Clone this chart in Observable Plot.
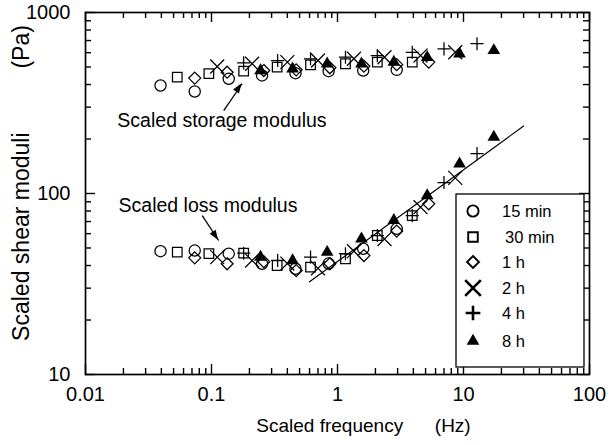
<!DOCTYPE html>
<html><head><meta charset="utf-8">
<script src="https://cdn.jsdelivr.net/npm/d3@7"></script>
<script src="https://cdn.jsdelivr.net/npm/@observablehq/plot@0.6"></script>
<style>
html,body{margin:0;padding:0;background:#fff;}
#chart{width:610px;height:445px;}
</style></head><body><div id="chart"></div>
<script>
// ---- data ----
const seriesNames = ["15 min", "30 min", "1 h", "2 h", "4 h", "8 h"];

const freq15 = [0.0394, 0.0736, 0.137, 0.252, 0.464, 0.85, 1.6, 2.95];
const storage15 = [395, 366, 430, 449, 462, 474, 478, 482];
const loss15 = [48.0, 48.4, 46.5, 40.9, 38.4, 41.0, 49.5, 63.8];

const freq30 = [0.0535, 0.0953, 0.180, 0.332, 0.611, 1.157, 2.07, 3.92];
const storage30 = [439, 459, 474, 499, 514, 521, 532, 532];
const loss30 = [47.4, 46.5, 46.8, 40.0, 39.2, 43.6, 58.6, 75.5];

const freq1h = [0.0736, 0.133, 0.26, 0.47, 0.87, 1.62, 2.95, 5.3];
const storage1h = [434, 468, 478, 482, 495, 505, 515, 532];
const loss1h = [44.1, 40.9, 42.0, 37.5, 40.9, 45.4, 62.0, 87.7];

const freq2h = [0.111, 0.21, 0.40, 0.70, 1.35, 2.36, 4.56, 8.6];
const storage2h = [503, 521, 532, 543, 555, 566, 578, 603];
const loss2h = [44.5, 42.6, 41.0, 38.6, 48.0, 56.0, 84.0, 122];

const freq4h = [0.180, 0.335, 0.611, 1.157, 2.07, 3.92, 7.0, 12.8];
const storage4h = [527, 543, 555, 566, 578, 603, 630, 672];
const loss4h = [46.8, 42.7, 44.5, 46.5, 58.6, 75.5, 115, 166];

const freq8h = [0.245, 0.44, 0.828, 1.55, 2.80, 5.15, 9.3, 17.4];
const storage8h = [478, 489, 521, 521, 532, 566, 591, 617];
const loss8h = [44.5, 42.6, 47.4, 56.2, 71.0, 97.5, 146, 205];

// fitted line (slope ~0.5)
const lineFreq = [0.6, 30];
const lineLoss = [32.5, 236];

// tick labels
const xTickValues = [0.01, 0.1, 1, 10, 100];
const xTickLabels = ["0.01", "0.1", "1", "10", "100"];
const yTickValues = [10, 100, 1000];
const yTickLabels = ["10", "100", "1000"];

const NB = "\u00a0";
const xTitle = "Scaled frequency" + NB.repeat(6) + "(Hz)";
const yTitle = "Scaled shear moduli" + NB.repeat(10) + "(Pa)";

const noteText = ["Scaled storage modulus", "Scaled loss modulus"];
const noteX = [0.0179, 0.0183];
const noteY = [253, 86];
const arrowX1 = [0.125, 0.0844], arrowY1 = [287, 75.5];
const arrowX2 = [0.175, 0.114], arrowY2 = [404, 55];

// ---- styling ----
const symbols = ["circle", "square", "diamond2", "times", "plus", "triangle"];
const d3symbols = [d3.symbolCircle, d3.symbolSquare, d3.symbolDiamond2, d3.symbolTimes, d3.symbolPlus, d3.symbolTriangle];
const radii = [5.6, 5.4, 5.4, 6.4, 4.3, 4.7];
const filled = [false, false, false, false, false, true];

const W = 610, H = 445, mL = 85, mR = 21, mT = 12, mB = 71;
const plotW = W - mL - mR, plotH = H - mT - mB;
const font = "'Liberation Sans', Arial, Helvetica, sans-serif";

const freqs = [freq15, freq30, freq1h, freq2h, freq4h, freq8h];
const stor = [storage15, storage30, storage1h, storage2h, storage4h, storage8h];
const loss = [loss15, loss30, loss1h, loss2h, loss4h, loss8h];

const table = [];
seriesNames.forEach((s, i) => {
  freqs[i].forEach((f, j) => {
    table.push({series: s, idx: i, freq: f, modulus: "storage", value: stor[i][j]});
    table.push({series: s, idx: i, freq: f, modulus: "loss", value: loss[i][j]});
  });
});

const lineData = lineFreq.map((f, i) => ({freq: f, value: lineLoss[i]}));
const notes = noteText.map((t, i) => ({text: t, x: noteX[i], y: noteY[i]}));
const arrows = arrowX1.map((_, i) => ({x1: arrowX1[i], y1: arrowY1[i], x2: arrowX2[i], y2: arrowY2[i]}));

// minor/major tick positions for the log axes
const xMinor = [], yMinor = [];
for (const dec of [0.01, 0.1, 1, 10]) for (let m = 2; m <= 9; m++) xMinor.push(dec * m);
for (const dec of [10, 100]) for (let m = 2; m <= 9; m++) yMinor.push(dec * m);

const tickLenMaj = 10, tickLenMin = 6, tw = 1.4;

const dotMarks = seriesNames.map((s, i) =>
  Plot.dot(table.filter(d => d.idx === i), {
    x: "freq", y: "value",
    symbol: () => symbols[i],
    r: radii[i],
    stroke: filled[i] ? "none" : "black",
    fill: filled[i] ? "black" : "none",
    strokeWidth: 1.25
  })
);

const plot = Plot.plot({
  width: W, height: H,
  marginLeft: mL, marginRight: mR, marginTop: mT, marginBottom: mB,
  style: {fontFamily: font, background: "white", color: "black", overflow: "visible"},
  x: {type: "log", domain: [0.01, 100]},
  y: {type: "log", domain: [10, 1000]},
  symbol: {type: "identity"},
  marks: [
    // inward ticks on all four sides
    Plot.tickX(xMinor, {x: d => d, insetTop: plotH - tickLenMin, strokeWidth: tw}),
    Plot.tickX(xMinor, {x: d => d, insetBottom: plotH - tickLenMin, strokeWidth: tw}),
    Plot.tickX(xTickValues, {x: d => d, insetTop: plotH - tickLenMaj, strokeWidth: tw}),
    Plot.tickX(xTickValues, {x: d => d, insetBottom: plotH - tickLenMaj, strokeWidth: tw}),
    Plot.tickY(yMinor, {y: d => d, insetRight: plotW - tickLenMin, strokeWidth: tw}),
    Plot.tickY(yMinor, {y: d => d, insetLeft: plotW - tickLenMin, strokeWidth: tw}),
    Plot.tickY(yTickValues, {y: d => d, insetRight: plotW - tickLenMaj, strokeWidth: tw}),
    Plot.tickY(yTickValues, {y: d => d, insetLeft: plotW - tickLenMaj, strokeWidth: tw}),
    Plot.axisX(xTickValues, {anchor: "bottom", tickSize: 0, tickPadding: 12, fontSize: 20,
      tickFormat: d => xTickLabels[xTickValues.indexOf(d)], label: null}),
    Plot.axisY(yTickValues, {anchor: "left", tickSize: 0, tickPadding: 15, fontSize: 20,
      tickFormat: d => yTickLabels[yTickValues.indexOf(d)], label: null}),
    Plot.frame({strokeWidth: 1.7}),
    // fitted line
    Plot.line(lineData, {x: "freq", y: "value", stroke: "black", strokeWidth: 1.2}),
    ...dotMarks,
    // annotations
    Plot.text(notes, {x: "x", y: "y", text: "text", textAnchor: "start", fontSize: 19.5, lineAnchor: "middle"}),
    Plot.link(arrows, {x1: "x1", y1: "y1", x2: "x2", y2: "y2", stroke: "black", strokeWidth: 1.3}),
    // axis titles
    Plot.text([xTitle], {text: d => d, frameAnchor: "bottom", dy: 51, dx: 26, fontSize: 19,
      textAnchor: "middle", lineAnchor: "middle"}),
    Plot.text([yTitle], {text: d => d, frameAnchor: "left", dx: -64, dy: -10.5, rotate: -90, fontSize: 23,
      textAnchor: "middle", lineAnchor: "middle"})
  ]
});

document.getElementById("chart").appendChild(plot);

// arrowheads + legend, positioned with the plot's own scales
const svg = d3.select(plot.tagName.toLowerCase() === "svg" ? plot : plot.querySelector("svg"));
const sxs = plot.scale("x"), sys = plot.scale("y");
const sx = sxs.apply ? (v => sxs.apply(v)) : d3.scaleLog(sxs.domain, sxs.range);
const sy = sys.apply ? (v => sys.apply(v)) : d3.scaleLog(sys.domain, sys.range);

arrows.forEach(a => {
  const x1 = sx(a.x1), y1 = sy(a.y1), x2 = sx(a.x2), y2 = sy(a.y2);
  const ang = Math.atan2(y2 - y1, x2 - x1);
  const L = 10, hw = 3.6;
  const bx = x2 - L * Math.cos(ang), by = y2 - L * Math.sin(ang);
  const px = -Math.sin(ang) * hw, py = Math.cos(ang) * hw;
  svg.append("path")
    .attr("d", `M${x2},${y2}L${bx + px},${by + py}L${bx - px},${by - py}Z`)
    .attr("fill", "black");
});

// legend box inside the plot
const lg = svg.append("g").attr("font-family", font).attr("font-size", 16.5).attr("text-anchor", "start");
const boxX = 456, boxY = 194, boxW = 128, boxH = 173;
lg.append("rect").attr("x", boxX).attr("y", boxY).attr("width", boxW).attr("height", boxH)
  .attr("fill", "white").attr("stroke", "black").attr("stroke-width", 1.3);
const rowY = [211, 237, 262, 288, 313, 341];
seriesNames.forEach((s, i) => {
  lg.append("path")
    .attr("transform", `translate(473,${rowY[i]})`)
    .attr("d", d3.symbol().type(d3symbols[i]).size(Math.PI * radii[i] * radii[i] * (i === 3 || i === 4 ? 1.25 : 1))())
    .attr("fill", filled[i] ? "black" : "none")
    .attr("stroke", filled[i] ? "none" : "black")
    .attr("stroke-width", i === 3 || i === 4 ? 2.6 : 1.9);
  lg.append("text").attr("x", i === 1 ? 505 : 502).attr("y", rowY[i]).attr("dy", "0.36em")
    .attr("text-anchor", "start").text(s);
});
</script>
</body></html>
